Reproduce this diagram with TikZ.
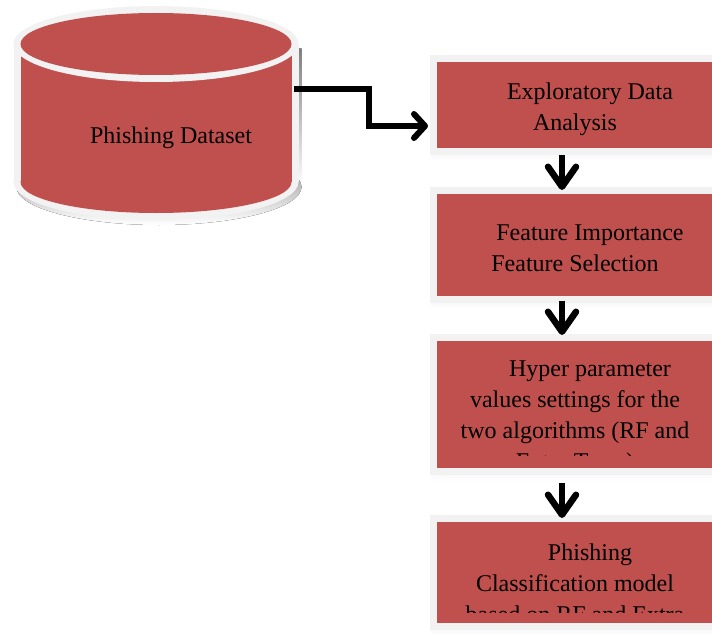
\documentclass[tikz,border=0pt]{standalone}
\usepackage{fontspec}
\setmainfont{Liberation Serif}
\usetikzlibrary{arrows.meta}
\definecolor{boxred}{RGB}{192,80,77}
\definecolor{rim}{RGB}{242,242,242}
\definecolor{shade}{RGB}{181,141,141}
\begin{document}
\begin{tikzpicture}[x=1pt,y=-1pt,
  box/.style={rectangle, fill=boxred, draw=rim, line width=7pt, inner sep=0pt, outer sep=0pt},
  txt/.style={align=center, font=\fontsize{24pt}{31pt}\selectfont, inner sep=0pt, text=black},
  varrow/.style={line width=6.5pt, -{Straight Barb[length=20pt,width=28pt,round]}},
  harrow/.style={line width=6pt, -{Straight Barb[length=11pt,width=24pt,round]}}]
\clip (0,0) rectangle (712,634);
\fill[white] (0,0) rectangle (712,634);

% cylinder (Phishing Dataset)
\begin{scope}[shift={(3,5)}]
  \fill[shade] (13.5,44) rectangle (298.5,182);
  \fill[shade] (156,182) ellipse [x radius=142.5pt, y radius=38pt];
\end{scope}
\fill[rim] (13.5,44) rectangle (298.5,182);
\fill[rim] (156,182) ellipse [x radius=142.5pt, y radius=38pt];
\fill[boxred] (20.5,44) rectangle (291.5,182);
\fill[boxred] (156,182) ellipse [x radius=135.5pt, y radius=31pt];
\fill[rim] (156,44) ellipse [x radius=142.5pt, y radius=38pt];
\fill[boxred] (156,44) ellipse [x radius=135.5pt, y radius=31pt];
\node[txt] (ds) at (171,137.5) {Phishing Dataset};
\coordinate (dsout) at (294,89);

% box shadows
\fill[shade] (431,60) rectangle (720,160);
\fill[shade] (431,191) rectangle (720,309);
\fill[shade] (431,338) rectangle (720,481);
\fill[shade] (431,519) rectangle (720,636);

% boxes
\node[box, minimum width=286.5pt, minimum height=92pt] (b1) at (576.75,105) {};
\node[box, minimum width=286.5pt, minimum height=109.5pt] (b2) at (576.75,244.75) {};
\node[box, minimum width=286.5pt, minimum height=134.5pt] (b3) at (576.75,404.25) {};
\node[box, minimum width=286.5pt, minimum height=108.5pt] (b4) at (576.75,572.25) {};

% texts
\node[txt] (t1) at (575,109) {\hspace*{30pt}Exploratory Data\\Analysis};
\node[txt] (t2) at (575,248.5) {\hspace*{30pt}Feature Importance\\Feature Selection};
\begin{scope}
  \clip (437,341) rectangle (720,455);
  \node[txt] (t3) at (575,417.5) {\hspace*{30pt}Hyper parameter\\values settings for the\\two algorithms (RF and\\Extra Trees)};
\end{scope}
\begin{scope}
  \clip (437,522) rectangle (720,612);
  \node[txt] (t4) at (575,583) {\hspace*{30pt}Phishing\\Classification model\\based on RF and Extra};
\end{scope}

% connectors
\coordinate (hin) at ([xshift=-5.5pt,yshift=-21pt]b1.west);
\draw[harrow] (dsout) -- ++(75,0) |- (hin);
\draw[varrow] ([xshift=-14.75pt,yshift=-4pt]b1.south) -- ([xshift=-14.75pt]b2.north);
\draw[varrow] ([xshift=-14.75pt,yshift=-1pt]b2.south) -- ([xshift=-14.75pt,yshift=2pt]b3.north);
\draw[varrow] ([xshift=-14.75pt,yshift=-11.5pt]b3.south) -- ([xshift=-14.75pt]b4.north);
\end{tikzpicture}
\end{document}
